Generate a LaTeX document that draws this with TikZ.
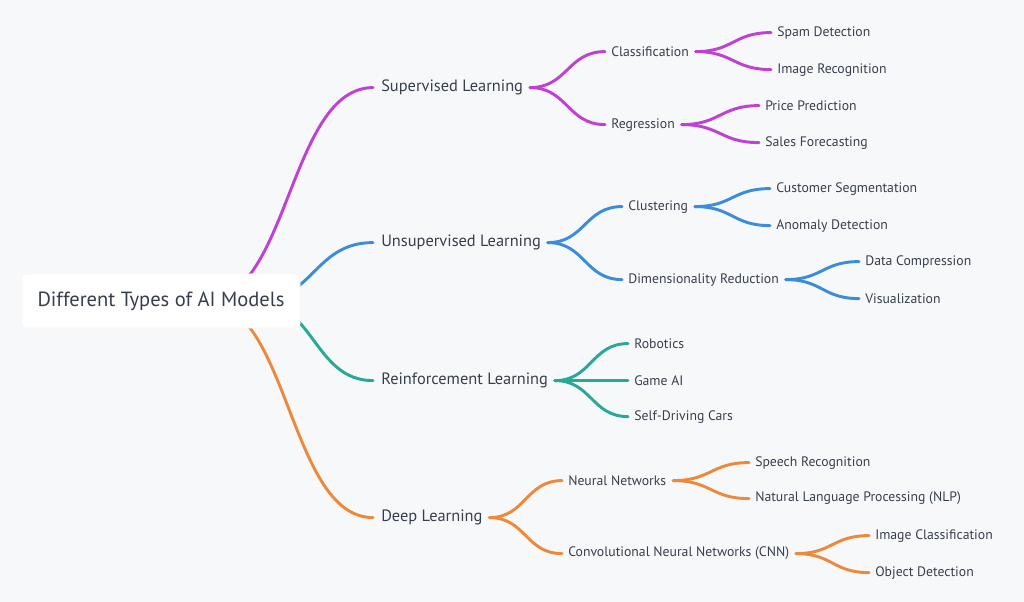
\documentclass[tikz,border=0pt]{standalone}
\usepackage{fontspec}
\setmainfont{PT Sans}
\usetikzlibrary{calc,backgrounds}

\definecolor{fond}{HTML}{F7F8FA}
\definecolor{texte}{HTML}{383F4C}
\definecolor{cviolet}{HTML}{BF40D3}
\definecolor{cbleu}{HTML}{3B8CDB}
\definecolor{cvert}{HTML}{27A995}
\definecolor{corange}{HTML}{EC893A}

\tikzset{
  feuille/.style={anchor=west, inner sep=0pt, yshift=-1.2pt, text=texte, font=\fontsize{10.3}{12}\selectfont},
  categorie/.style={feuille, font=\fontsize{12.3}{14}\selectfont},
  racine/.style={fill=white, draw=gray!6, rounded corners=3pt, text=texte,
    minimum width=208.5pt, minimum height=40.5pt, font=\fontsize{15.4}{17}\selectfont},
  lien/.style={line width=2.2pt, line cap=round},
}

% Branche horizontale entre deux points
\newcommand{\branche}[3]{%
  \draw[lien,#1] let \p1=#2, \p2=#3 in
    (\p1) .. controls ({(\x1+\x2)/2},\y1) and ({(\x1+\x2)/2},\y2) .. (\p2);}

\begin{document}
\begin{tikzpicture}[x=0.75pt,y=-0.75pt]
  % Fond
  \begin{pgfonlayer}{background}
    \fill[fond] (0,0) rectangle (1024,602);
  \end{pgfonlayer}

  % Racine
  \node[racine] (racine) at (161,301) {Different Types of AI Models};

  % Categories
  \node[categorie] (sup) at (381,86) {Supervised Learning};
  \node[categorie] (unsup) at (381,241) {Unsupervised Learning};
  \node[categorie] (rein) at (381,379) {Reinforcement Learning};
  \node[categorie] (deep) at (381,516) {Deep Learning};

  % Sous-categories
  \node[feuille] (cls) at (611,50) {Classification};
  \node[feuille] (reg) at (611,123) {Regression};
  \node[feuille] (clu) at (628,205) {Clustering};
  \node[feuille] (dim) at (628,278) {Dimensionality Reduction};
  \node[feuille] (rob) at (634,342) {Robotics};
  \node[feuille] (game) at (634,379) {Game AI};
  \node[feuille] (self) at (634,415) {Self-Driving Cars};
  \node[feuille] (nn) at (568,479) {Neural Networks};
  \node[feuille] (cnn) at (568,552) {Convolutional Neural Networks (CNN)};

  % Applications
  \node[feuille] (spam) at (777,31) {Spam Detection};
  \node[feuille] (imgr) at (777,68) {Image Recognition};
  \node[feuille] (price) at (765,104) {Price Prediction};
  \node[feuille] (sales) at (765,141) {Sales Forecasting};
  \node[feuille] (cust) at (776,187) {Customer Segmentation};
  \node[feuille] (anom) at (776,224) {Anomaly Detection};
  \node[feuille] (dcomp) at (865,260) {Data Compression};
  \node[feuille] (vis) at (865,297) {Visualization};
  \node[feuille] (speech) at (755,461) {Speech Recognition};
  \node[feuille] (nlp) at (755,497) {Natural Language Processing (NLP)};
  \node[feuille] (imgc) at (875,534) {Image Classification};
  \node[feuille] (obj) at (875,571) {Object Detection};

  % Liens (sous la racine)
  \begin{pgfonlayer}{background}
    \branche{cviolet}{([xshift=33pt]racine.center)}{([xshift=-6pt]sup.west)}
    \branche{cbleu}{([xshift=70.5pt]racine.center)}{([xshift=-6pt]unsup.west)}
    \branche{cvert}{([xshift=70.5pt]racine.center)}{([xshift=-6pt]rein.west)}
    \branche{corange}{([xshift=33pt]racine.center)}{([xshift=-6pt]deep.west)}
    \foreach \a/\b in {sup/cls, sup/reg, cls/spam, cls/imgr, reg/price, reg/sales}
      \branche{cviolet}{([xshift=5pt]\a.east)}{([xshift=-4.5pt]\b.west)};
    \foreach \a/\b in {unsup/clu, unsup/dim, clu/cust, clu/anom, dim/dcomp, dim/vis}
      \branche{cbleu}{([xshift=5pt]\a.east)}{([xshift=-4.5pt]\b.west)};
    \foreach \a/\b in {rein/rob, rein/game, rein/self}
      \branche{cvert}{([xshift=5pt]\a.east)}{([xshift=-4.5pt]\b.west)};
    \foreach \a/\b in {deep/nn, deep/cnn, nn/speech, nn/nlp, cnn/imgc, cnn/obj}
      \branche{corange}{([xshift=5pt]\a.east)}{([xshift=-4.5pt]\b.west)};
  \end{pgfonlayer}
\end{tikzpicture}
\end{document}
